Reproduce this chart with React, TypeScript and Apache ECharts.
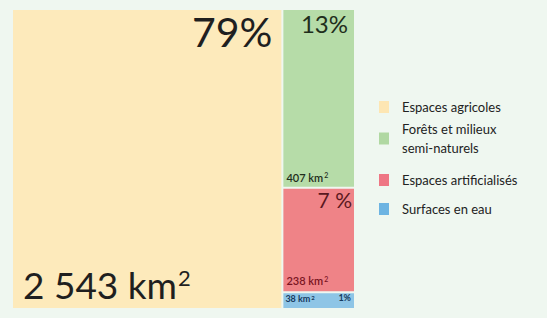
import React, { useEffect, useRef } from "react";
import * as echarts from "echarts";

// ---- data ----
const categories = [
  "Espaces agricoles",
  "Forêts et milieux semi-naturels",
  "Espaces artificialisés",
  "Surfaces en eau",
];
const legendLabels = [
  "Espaces agricoles",
  "Forêts et milieux\nsemi-naturels",
  "Espaces artificialisés",
  "Surfaces en eau",
];
const areasKm2 = [2543, 407, 238, 38];
const percentLabels = ["79%", "13%", "7 %", "1%"];
const areaNumberLabels = ["2 543", "407", "238", "38"];
const areaUnit = "km";

// ---- styles ----
const blockColors = ["#fdeabb", "#b6dca8", "#ef8387", "#8ec5e6"];
const legendColors = ["#fde6b3", "#b0d8a2", "#ee7684", "#6db4e2"];
const pctStyle = [
  { fontSize: 41, color: "#1f1f1f", weight: 400, offset: [-9, 1] },
  { fontSize: 24, color: "#1f2e1c", weight: 400, offset: [-6, 1] },
  { fontSize: 21, color: "#5a1820", weight: 400, offset: [-2, 0] },
  { fontSize: 9, color: "#173a5e", weight: 700, offset: [-3, 0] },
];
const kmStyle = [
  { fontSize: 37, sup: 22, color: "#1f1f1f", weight: 400, dx: 10, dy: 42 },
  { fontSize: 11, sup: 7, color: "#1f2e1c", weight: 600, dx: 3, dy: 15 },
  { fontSize: 11, sup: 7, color: "#7a1422", weight: 600, dx: 3, dy: 16 },
  { fontSize: 9, sup: 6, color: "#173a5e", weight: 700, dx: 2, dy: 14 },
];
const legendRowCenters = [107, 138.5, 180, 209];
const FONT = "Lato, 'Open Sans', sans-serif";
const BG = "#eff7f0";

const kmFormatted = areaNumberLabels.map((n) => `${n} ${areaUnit}{sup|2}`);

export default function App() {
  const ref = useRef<HTMLDivElement>(null);
  useEffect(() => {
    if (!ref.current) return;
    const chart = echarts.init(ref.current, null, { renderer: "svg" });
    const common = {
      type: "treemap",
      left: 13,
      top: 10,
      width: 341,
      height: 298,
      roam: false,
      nodeClick: false,
      silent: true,
      sort: "desc",
      visibleMin: 0,
      breadcrumb: { show: false },
      itemStyle: { gapWidth: 2, borderWidth: 0, borderColor: "rgba(0,0,0,0)" },
      levels: [{ itemStyle: { gapWidth: 2, borderWidth: 0, borderColor: "rgba(0,0,0,0)" } }],
    };
    const option: any = {
      animation: false,
      backgroundColor: BG,
      series: [
        {
          ...common,
          label: {
            show: true,
            position: "insideTopRight",
            distance: 0,
            padding: 0,
            fontFamily: FONT,
          },
          data: categories.map((name, i) => ({
            name,
            value: areasKm2[i],
            itemStyle: { color: blockColors[i] },
            label: {
              formatter: percentLabels[i],
              fontSize: pctStyle[i].fontSize,
              lineHeight: pctStyle[i].fontSize,
              color: pctStyle[i].color,
              fontWeight: pctStyle[i].weight,
              offset: pctStyle[i].offset,
            },
          })),
        },
        {
          ...common,
          label: {
            show: true,
            position: "insideTopLeft",
            distance: 0,
            padding: 0,
            fontFamily: FONT,
          },
          labelLayout: (params: any) => {
            const i = kmFormatted.indexOf(params.text);
            if (i < 0) return {};
            const s = kmStyle[i];
            return {
              x: params.rect.x + s.dx,
              y: params.rect.y + params.rect.height - s.dy,
              align: "left",
              verticalAlign: "top",
            };
          },
          data: categories.map((name, i) => ({
            name,
            value: areasKm2[i],
            itemStyle: { color: "rgba(0,0,0,0)" },
            label: {
              formatter: kmFormatted[i],
              fontSize: kmStyle[i].fontSize,
              lineHeight: kmStyle[i].fontSize,
              color: kmStyle[i].color,
              fontWeight: kmStyle[i].weight,
              rich: {
                sup: {
                  fontFamily: FONT,
                  fontSize: kmStyle[i].sup,
                  lineHeight: kmStyle[i].sup,
                  color: kmStyle[i].color,
                  fontWeight: kmStyle[i].weight,
                  verticalAlign: "top",
                  padding: [0, 0, 0, 1],
                },
              },
            },
          })),
        },
      ],
      graphic: legendLabels.flatMap((label, i) => [
        {
          type: "rect",
          x: 379,
          y: legendRowCenters[i] - 6,
          shape: { width: 10, height: 12 },
          style: { fill: legendColors[i] },
          silent: true,
        },
        {
          type: "text",
          x: 402,
          y: legendRowCenters[i],
          style: {
            text: label,
            fontFamily: FONT,
            fontSize: 13,
            lineHeight: 19,
            fill: "#222",
            verticalAlign: "middle",
            align: "left",
          },
          silent: true,
        },
      ]),
    };
    chart.setOption(option);
    return () => chart.dispose();
  }, []);
  return (
    <div
      ref={ref}
      style={{ position: "fixed", left: 0, top: 0, width: 547, height: 318, background: BG }}
    />
  );
}
